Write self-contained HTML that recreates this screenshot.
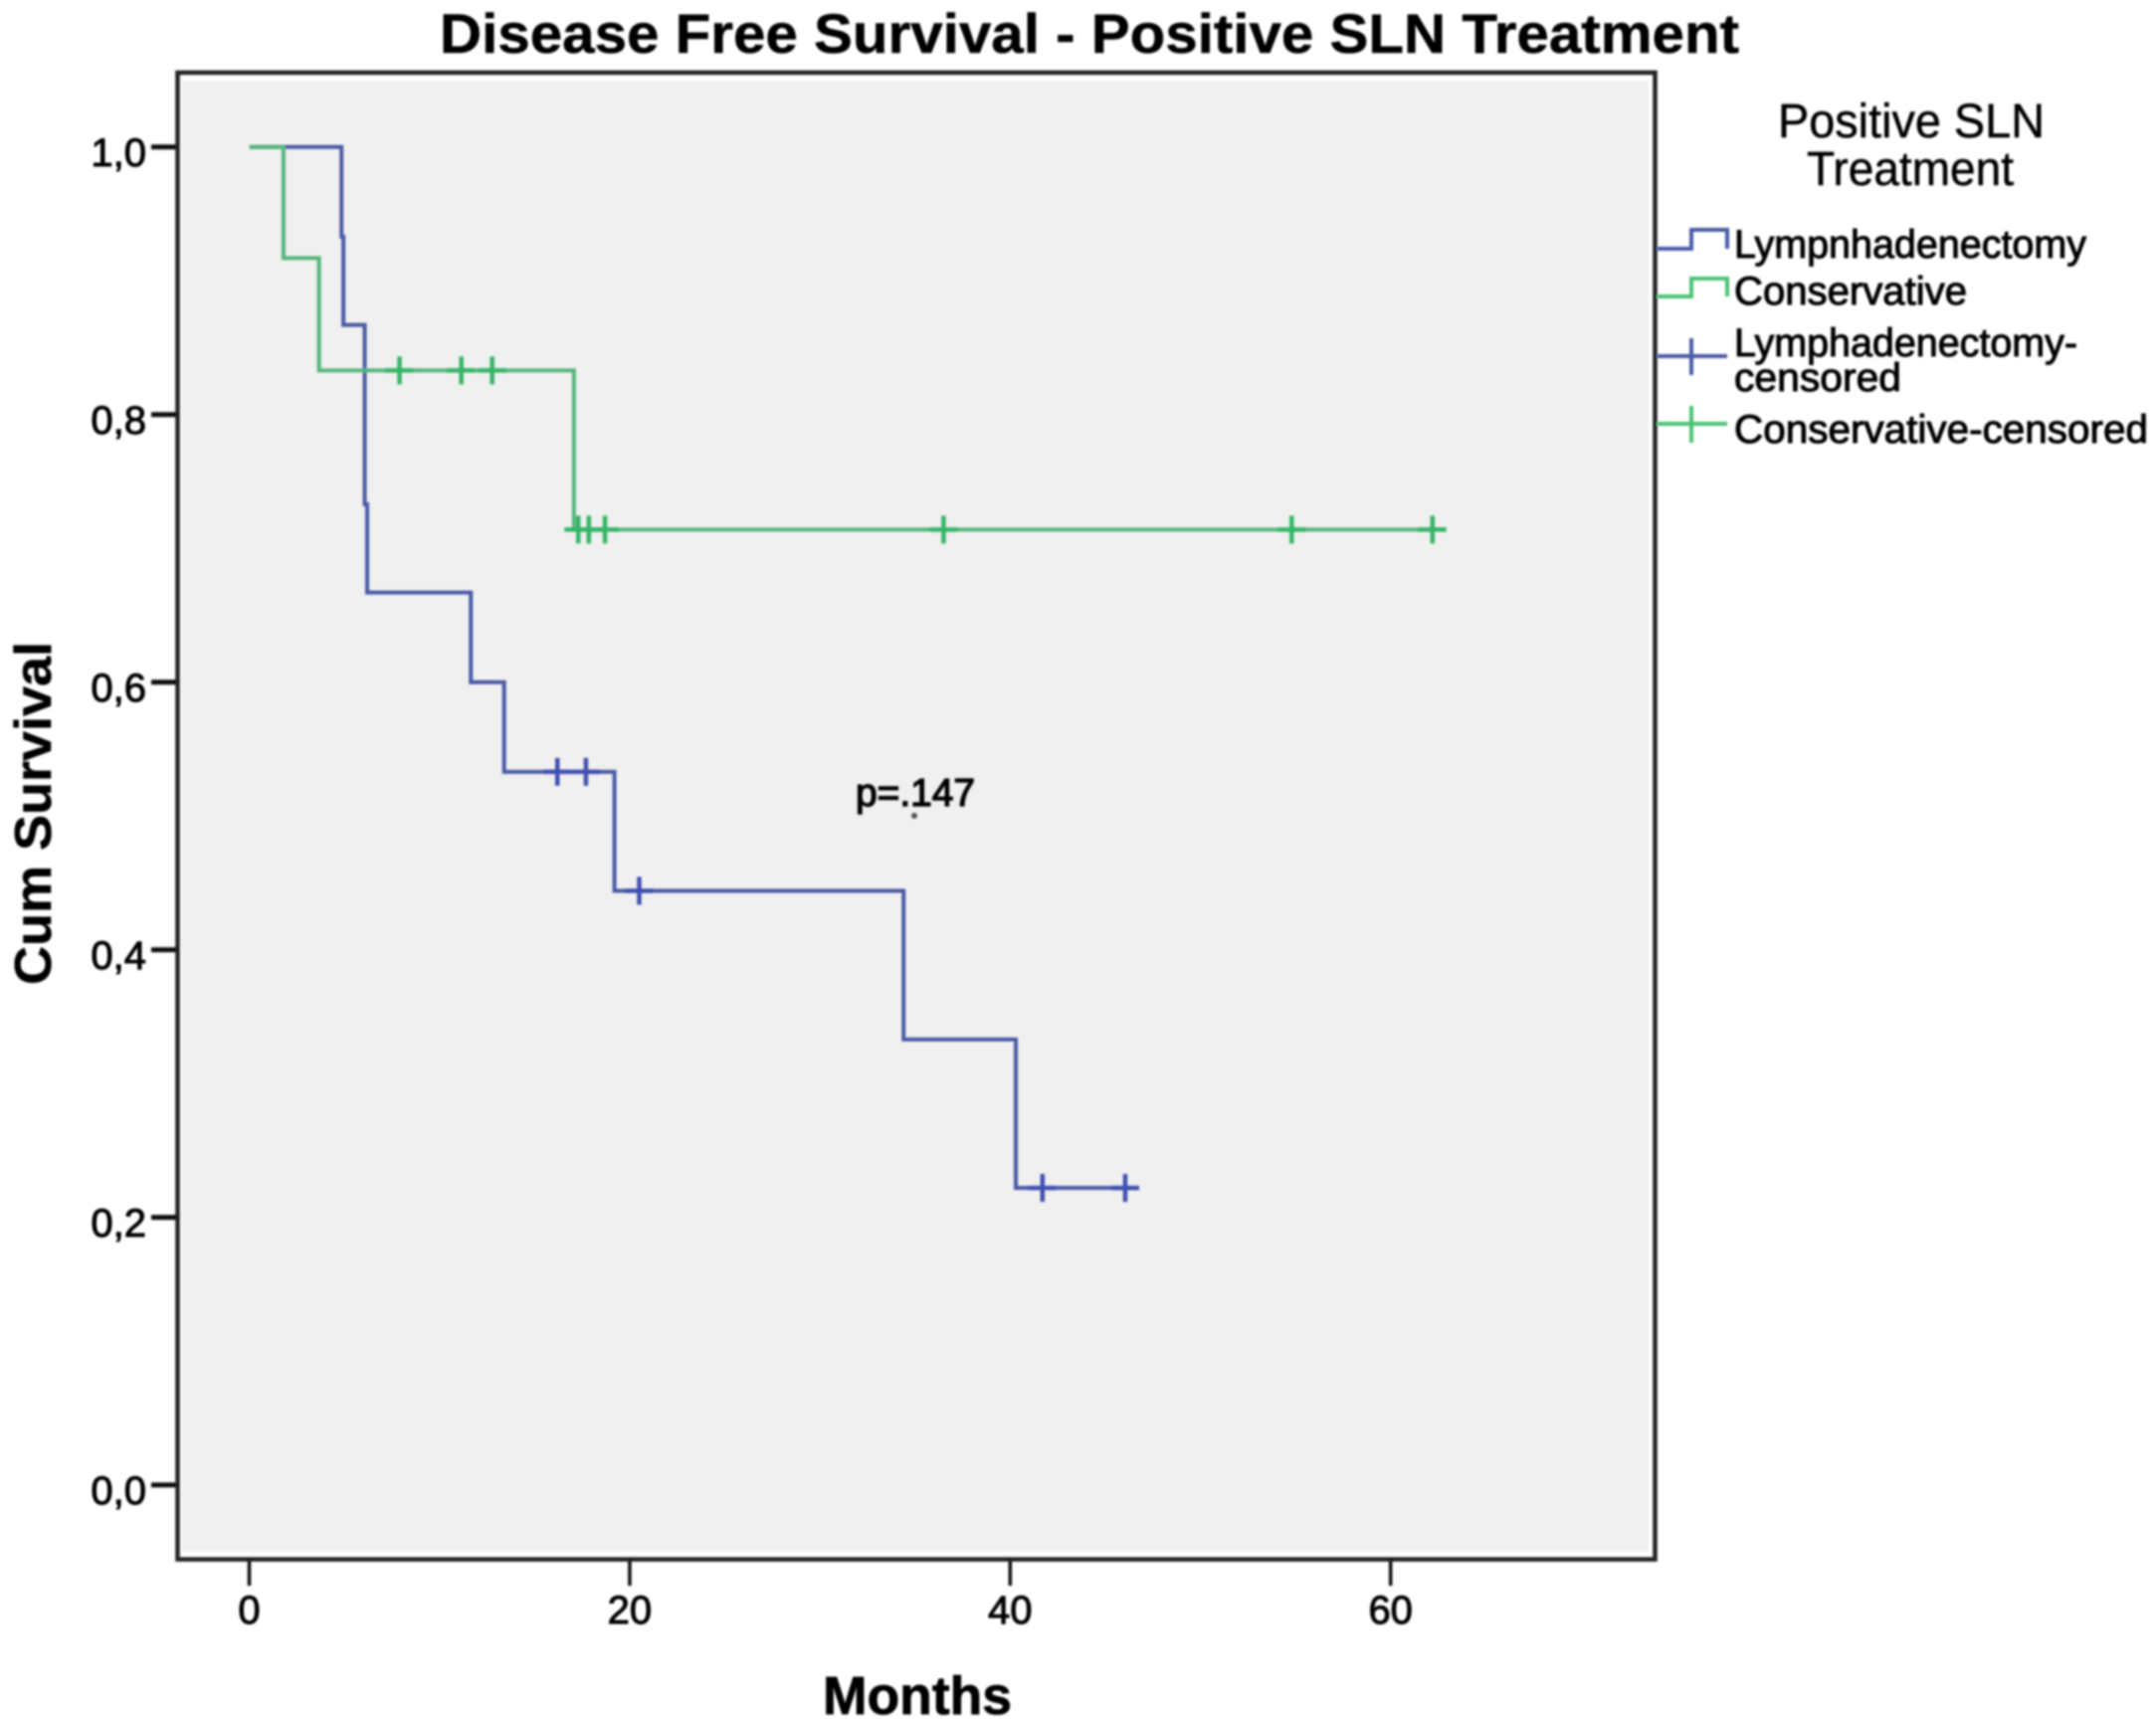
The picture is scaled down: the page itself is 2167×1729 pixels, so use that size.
<!DOCTYPE html>
<html>
<head>
<meta charset="utf-8">
<title>Disease Free Survival - Positive SLN Treatment</title>
<style>
html,body{margin:0;padding:0;background:#fff;width:2167px;height:1729px;overflow:hidden}
svg{display:block}
text{font-family:"Liberation Sans",sans-serif;fill:#000}
</style>
</head>
<body>
<svg id="chart" xmlns="http://www.w3.org/2000/svg" width="2167" height="1729" viewBox="0 0 2167 1729">
  <defs>
    <filter id="soft" x="-5%" y="-5%" width="110%" height="110%"><feGaussianBlur stdDeviation="1.1"/></filter>
  </defs>
  <rect width="2167" height="1729" fill="#fff"/>
  <rect x="183" y="81" width="1474" height="1479" fill="#f0f0f0" filter="url(#soft)"/>
  <g id="marks" filter="url(#soft)"></g>
  <path d="M178.500 73H1663.500V1567.500H178.500Z" fill="none" stroke="#222" stroke-width="4.500" filter="url(#soft)"/>
  <g id="axes" filter="url(#soft)"></g>

  <g filter="url(#soft)">
    <text x="442" y="53" font-size="56" font-weight="bold" textLength="1306" lengthAdjust="spacingAndGlyphs" stroke="#000" stroke-width="0.5">Disease Free Survival - Positive SLN Treatment</text>
    <text transform="translate(51,990) rotate(-90)" font-size="52" font-weight="bold" textLength="345" lengthAdjust="spacingAndGlyphs" stroke="#000" stroke-width="0.5">Cum Survival</text>
    <text x="827" y="1723" font-size="54" font-weight="bold" textLength="190" lengthAdjust="spacingAndGlyphs" stroke="#000" stroke-width="0.8">Months</text>
    <text x="860" y="810" font-size="39" textLength="120" lengthAdjust="spacingAndGlyphs" stroke="#000" stroke-width="1.4">p=.147</text>
    <circle cx="919" cy="820" r="3" fill="#555"/>
  </g>

  <g filter="url(#soft)">
    <text x="1787" y="138" font-size="48" textLength="268" lengthAdjust="spacingAndGlyphs" stroke="#000" stroke-width="0.5">Positive SLN</text>
    <text x="1816" y="186" font-size="48" textLength="208" lengthAdjust="spacingAndGlyphs" stroke="#000" stroke-width="0.5">Treatment</text>

    <path d="M1665 250H1700V231H1736V250" fill="none" stroke="#4a5aa5" stroke-width="4"/>
    <text x="1743" y="259" font-size="40" textLength="354" lengthAdjust="spacingAndGlyphs" stroke="#000" stroke-width="1">Lympnhadenectomy</text>

    <path d="M1665 298H1700V280H1736V298" fill="none" stroke="#4cc273" stroke-width="4"/>
    <text x="1743" y="306" font-size="40" textLength="234" lengthAdjust="spacingAndGlyphs" stroke="#000" stroke-width="1">Conservative</text>

    <path d="M1665 358H1736M1700 340V377" fill="none" stroke="#4a5aa5" stroke-width="4"/>
    <text x="1743" y="358" font-size="40" textLength="345" lengthAdjust="spacingAndGlyphs" stroke="#000" stroke-width="1">Lymphadenectomy-</text>
    <text x="1743" y="393" font-size="40" textLength="168" lengthAdjust="spacingAndGlyphs" stroke="#000" stroke-width="1">censored</text>

    <path d="M1665 426H1736M1700 408V445" fill="none" stroke="#4cc273" stroke-width="4"/>
    <text x="1743" y="445" font-size="40" textLength="416" lengthAdjust="spacingAndGlyphs" stroke="#000" stroke-width="1">Conservative-censored</text>
  </g>
</svg>

<script>
// Chart data
const xTicks = [0, 20, 40, 60];
const yTicks = [0, 0.2, 0.4, 0.6, 0.8, 1.0];
const yTickLabels = ['0,0', '0,2', '0,4', '0,6', '0,8', '1,0'];

const lymphTimes = [0, 4.85, 4.95, 6.07, 6.2, 11.65, 13.4, 19.2, 34.4, 40.3, 46.7];
const lymphSurvival = [1.0, 0.933, 0.867, 0.733, 0.667, 0.6, 0.533, 0.444, 0.333, 0.222, 0.222];
const lymphCensored = [16.2, 17.7, 20.5, 41.7, 46.05];

const consTimes = [0, 1.8, 3.67, 17.07, 62.7];
const consSurvival = [1.0, 0.917, 0.833, 0.714, 0.714];
const consCensored = [7.9, 11.15, 12.77, 17.3, 17.85, 18.7, 36.5, 54.8, 62.2];

// Axis functions
function xScale(months) { return 250.5 + months * 19.12; }
function yScale(survival) { return 1492.7 - survival * 1345; }

const NS = 'http://www.w3.org/2000/svg';
const marks = document.getElementById('marks');
const axes = document.getElementById('axes');

function survivalAt(times, survival, t) {
  let s = survival[0];
  for (let i = 0; i < times.length; i++) {
    if (times[i] <= t) s = survival[i];
  }
  return s;
}

function stepPath(times, survival) {
  let d = 'M' + xScale(times[0]) + ' ' + yScale(survival[0]);
  for (let i = 1; i < times.length; i++) {
    d += 'H' + xScale(times[i]) + 'V' + yScale(survival[i]);
  }
  return d;
}

function drawCurve(times, survival, censored, color, centerColor, name) {
  const line = document.createElementNS(NS, 'path');
  
  
  line.setAttribute('d', stepPath(times, survival));
  line.setAttribute('fill', 'none');
  line.setAttribute('stroke', color);
  line.setAttribute('stroke-width', '4');
  marks.appendChild(line);

  censored.forEach(function (t) {
    const cx = xScale(t);
    const cy = yScale(survivalAt(times, survival, t));
    const tick = document.createElementNS(NS, 'path');
    
    
    tick.setAttribute('d', 'M' + cx + ' ' + (cy - 14) + 'V' + (cy + 14) + 'M' + (cx - 14) + ' ' + cy + 'H' + (cx + 14));
    tick.setAttribute('fill', 'none');
    tick.setAttribute('stroke', centerColor);
    tick.setAttribute('stroke-width', '4.5');
    marks.appendChild(tick);
  });
}

drawCurve(lymphTimes, lymphSurvival, lymphCensored, '#4a5aa5', '#3f4fb0', 'lymphadenectomy');
drawCurve(consTimes, consSurvival, consCensored, '#55b57a', '#35b565', 'conservative');

yTicks.forEach(function (v, i) {
  const y = yScale(v);
  const tick = document.createElementNS(NS, 'line');
  
  
  tick.setAttribute('x1', 152);
  tick.setAttribute('x2', 178);
  tick.setAttribute('y1', y);
  tick.setAttribute('y2', y);
  tick.setAttribute('stroke', '#111');
  tick.setAttribute('stroke-width', '5');
  axes.appendChild(tick);

  const label = document.createElementNS(NS, 'text');
  
  
  label.setAttribute('x', 147);
  label.setAttribute('y', y + 19.5);
  label.setAttribute('text-anchor', 'end');
  label.setAttribute('font-size', '40');
  label.setAttribute('stroke', '#000');
  label.setAttribute('stroke-width', '1');
  label.textContent = yTickLabels[i];
  axes.appendChild(label);
});

xTicks.forEach(function (v) {
  const x = xScale(v);
  const tick = document.createElementNS(NS, 'line');
  
  
  tick.setAttribute('x1', x);
  tick.setAttribute('x2', x);
  tick.setAttribute('y1', 1568);
  tick.setAttribute('y2', 1594);
  tick.setAttribute('stroke', '#111');
  tick.setAttribute('stroke-width', '3.5');
  axes.appendChild(tick);

  const label = document.createElementNS(NS, 'text');
  
  
  label.setAttribute('x', x);
  label.setAttribute('y', 1632);
  label.setAttribute('text-anchor', 'middle');
  label.setAttribute('font-size', '40');
  label.setAttribute('stroke', '#000');
  label.setAttribute('stroke-width', '1');
  label.textContent = String(v);
  axes.appendChild(label);
});
</script>
</body>
</html>
